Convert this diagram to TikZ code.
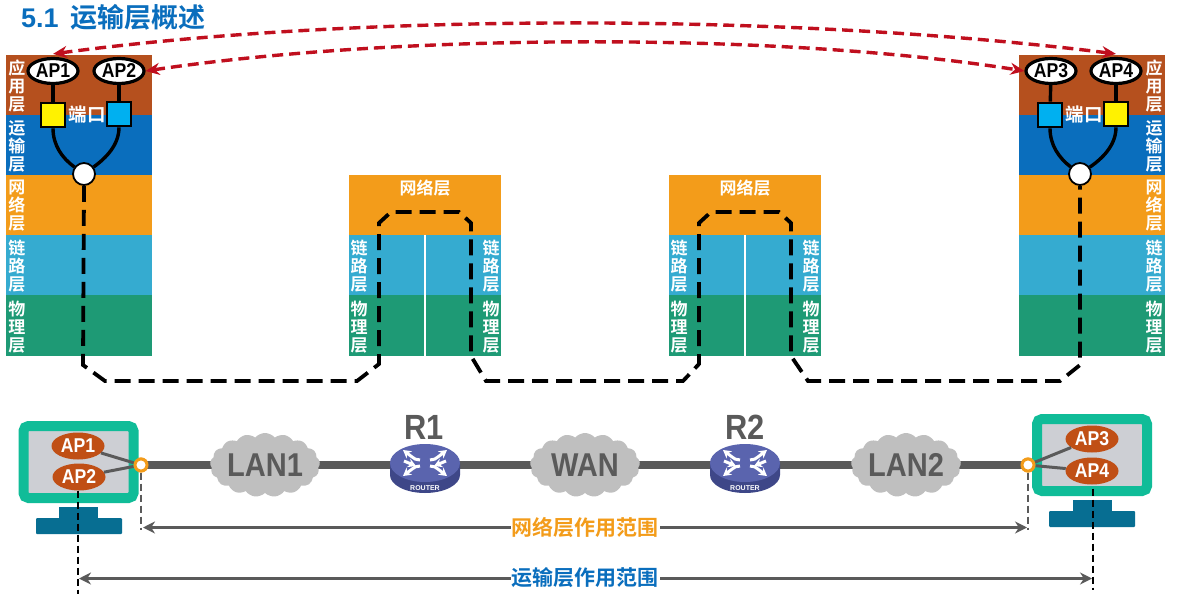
\documentclass[tikz,border=0pt]{standalone}
\usepackage{fontspec}
\setmainfont{Liberation Sans}
\newfontfamily\nrw{Liberation Sans}[FakeStretch=0.88]
\newfontfamily\cjk{Noto Sans CJK SC}[BoldFont={Noto Sans CJK SC Bold}]
\usetikzlibrary{shapes.symbols,shapes.geometric,arrows.meta,calc}
\definecolor{capp}{HTML}{B5501E}
\definecolor{ctra}{HTML}{0A6EBD}
\definecolor{cnet}{HTML}{F39C1A}
\definecolor{clin}{HTML}{35ABD0}
\definecolor{cphy}{HTML}{1E9A75}
\definecolor{cred}{HTML}{C00F1E}
\definecolor{cgry}{HTML}{5A5A5A}
\definecolor{ccld}{HTML}{BFBFBF}
\definecolor{cteal}{HTML}{10BC98}
\definecolor{cscr}{HTML}{CDCFD4}
\definecolor{cstd}{HTML}{076E92}
\definecolor{cbub}{HTML}{C04F15}
\definecolor{crt}{HTML}{5A64AE}
\definecolor{crtd}{HTML}{3E4788}
\definecolor{cport}{HTML}{00B0F0}
\newcommand{\vfnt}{\cjk\bfseries\fontsize{17}{18}\selectfont\lineskiplimit=-20pt\relax}
\tikzset{
 x=1pt,y=-1pt,
 band/.style={draw=none,fill=#1,minimum width=146pt,minimum height=60.5pt,inner sep=0,outer sep=0},
 rband/.style={draw=none,fill=#1,minimum width=152pt,minimum height=60.5pt,inner sep=0,outer sep=0},
 vlab/.style={text=white,font=\vfnt,align=center,inner sep=0},
 hlab/.style={text=white,font=\cjk\bfseries\fontsize{17}{17}\selectfont,inner sep=0},
 apw/.style={ellipse,draw=black,line width=3.2pt,fill=white,minimum width=50pt,minimum height=25pt,inner sep=0,font=\nrw\bfseries\fontsize{20}{20}\selectfont},
 port/.style={draw=black,line width=2.6pt,fill=#1,minimum size=24pt,inner sep=0},
 hub/.style={circle,draw=black,line width=1.8pt,fill=white,minimum size=22pt,inner sep=0},
 wire/.style={draw=black,line width=3.4pt},
 route/.style={draw=black,line width=3.8pt,dash pattern=on 16pt off 8pt},
 redarc/.style={draw=cred,line width=3.4pt,dash pattern=on 11pt off 6pt,{Stealth[length=14pt,width=12pt]}-{Stealth[length=14pt,width=12pt]}},
 lan/.style={cloud,cloud puffs=17,cloud puff arc=100,aspect=1.7,minimum width=110pt,minimum height=64pt,fill=ccld,draw=none,text=cgry,inner sep=-20pt,font=\nrw\bfseries\fontsize{33}{33}\selectfont},
 bub/.style={ellipse,fill=cbub,text=white,minimum width=53pt,minimum height=27pt,inner sep=0,font=\nrw\bfseries\fontsize{20}{20}\selectfont},
 ring/.style={circle,draw=cnet,line width=3pt,fill=white,minimum size=12pt,inner sep=0},
 link/.style={draw=cgry,line width=3pt},
 trunk/.style={draw=cgry,line width=7.5pt},
 scrn/.style={draw=cteal,line width=10pt,fill=cscr,rounded corners=5pt,minimum width=110pt,minimum height=72pt,inner sep=0},
 stdp/.style={fill=cstd,draw=none,inner sep=0},
 guide/.style={draw=cgry,line width=1.5pt,dash pattern=on 7pt off 4pt},
 guidek/.style={draw=black,line width=1.5pt,dash pattern=on 7pt off 4pt},
 span/.style={draw=cgry,line width=3.2pt,{Stealth[length=12pt,width=12pt]}-{Stealth[length=12pt,width=12pt]}},
 spanlab/.style={fill=white,inner sep=1pt,font=\cjk\bfseries\fontsize{21}{21}\selectfont,text=#1},
 rname/.style={text=cgry,font=\nrw\bfseries\fontsize{35}{35}\selectfont,inner sep=0},
 rtag/.style={text=white,font=\bfseries\fontsize{7}{7}\selectfont,inner sep=0},
}
\newcommand{\hoststack}[2]{%
 \node[band=capp] (#1a) at (#2,85) {};
 \node[band=ctra] (#1t) at (#2,145) {};
 \node[band=cnet] (#1n) at (#2,205) {};
 \node[band=clin] (#1l) at (#2,265) {};
 \node[band=cphy] (#1p) at (#2,325.5) {};
}
\newcommand{\routerstack}[2]{%
 \node[rband=cnet] (#1n) at (#2,205) {};
 \node[rband=clin] (#1l) at (#2,265) {};
 \node[rband=cphy] (#1p) at (#2,325.5) {};
 \draw[white,line width=1.6pt] (#1l.north) -- (#1p.south);
 \node[hlab] (#1t) at (#2,188) {网络层};
 \node[vlab] (#1ll) at (#2-66,266) {链\\路\\层};
 \node[vlab] (#1lr) at (#2+66,266) {链\\路\\层};
 \node[vlab] (#1pl) at (#2-66,327) {物\\理\\层};
 \node[vlab] (#1pr) at (#2+66,327) {物\\理\\层};
}
\newcommand{\routericon}[2]{%
 \fill[crtd] (#2-35,463) -- (#2-35,475) arc[start angle=180,end angle=0,x radius=35,y radius=18] -- (#2+35,463) -- cycle;
 \node[ellipse,fill=crt,minimum width=70pt,minimum height=38pt,inner sep=0] (#1) at (#2,463) {};
 \begin{scope}[shift={(#2,463)},white,line width=3pt,-{Stealth[length=8pt,width=9pt]}]
  \draw (-5,-3) .. controls (-9,-3) .. (-22,-13);
  \draw (5,-3) .. controls (9,-3) .. (22,-13);
  \draw (-5,3) .. controls (-9,3) .. (-22,13);
  \draw (5,3) .. controls (9,3) .. (22,13);
  \draw (-21,-2) -- (-9,3);
  \draw (21,-2) -- (9,3);
 \end{scope}
 \node[rtag] at (#2,488) {ROUTER};
}
\begin{document}
\begin{tikzpicture}
\useasboundingbox (0,0) rectangle (1181,594);
\fill[white] (0,0) rectangle (1181,594);
\node[anchor=west,text=ctra,font=\bfseries\fontsize{27}{27}\selectfont,inner sep=0] (title) at (21,17) {5.1\hspace{4pt} {\cjk\bfseries\fontsize{27}{27}\selectfont 运输层概述}};

\hoststack{L}{79}
\hoststack{R}{1092}
\foreach \s/\x in {L/17,R/1154}{
 \node[vlab] at (\x,86) {应\\用\\层};
 \node[vlab] at (\x,146) {运\\输\\层};
 \node[vlab] at (\x,206) {网\\络\\层};
 \node[vlab] at (\x,266) {链\\路\\层};
 \node[vlab] at (\x,327) {物\\理\\层};
}
\routerstack{A}{425}
\routerstack{B}{745}

\node[hub] (hl) at (84,174) {};
\node[hub] (hr) at (1080,174) {};
\coordinate (r1) at (83,365);
\coordinate (r2) at (105,381);
\coordinate (r3) at (357,381);
\coordinate (r4) at (379,364);
\coordinate (r5) at (379,223);
\coordinate (r6) at (391,212);
\coordinate (r7) at (459,212);
\coordinate (r8) at (471,223);
\coordinate (r9) at (471,356);
\coordinate (r10) at (486,381);
\coordinate (r11) at (683,381);
\coordinate (r12) at (699,364);
\coordinate (r13) at (699,223);
\coordinate (r14) at (711,212);
\coordinate (r15) at (779,212);
\coordinate (r16) at (791,223);
\coordinate (r17) at (791,356);
\coordinate (r18) at (808,381);
\coordinate (r19) at (1060,381);
\coordinate (r20) at (1080,365);
\draw[route] (hl.south) -- (r1) -- (r2) -- (r3) -- (r4) -- (r5) -- (r6) -- (r7) -- (r8) -- (r9) -- (r10) -- (r11) -- (r12) -- (r13) -- (r14) -- (r15) -- (r16) -- (r17) -- (r18) -- (r19) -- (r20) -- (hr.south);

\node[apw] (ap1) at (53,71) {AP1};
\node[apw] (ap2) at (119,71) {AP2};
\node[port=yellow] (pa) at (53,115) {};
\node[port=cport] (pb) at (119,114) {};
\node[hlab,font=\cjk\bfseries\fontsize{18.5}{18.5}\selectfont] (pl) at (87,115) {端口};
\draw[wire] (ap1) -- (pa);
\draw[wire] (ap2) -- (pb);
\draw[wire] (pa.south) .. controls (53,145) and (62,158) .. (hl);
\draw[wire] (pb.south) .. controls (119,145) and (106,158) .. (hl);

\node[apw] (ap3) at (1051,71) {AP3};
\node[apw] (ap4) at (1116,71) {AP4};
\node[port=cport] (pc) at (1050,115) {};
\node[port=yellow] (pd) at (1116,114) {};
\node[hlab,font=\cjk\bfseries\fontsize{18.5}{18.5}\selectfont] (pr) at (1084,115) {端口};
\draw[wire] (ap3) -- (pc);
\draw[wire] (ap4) -- (pd);
\draw[wire] (pc.south) .. controls (1050,145) and (1059,158) .. (hr);
\draw[wire] (pd.south) .. controls (1116,145) and (1103,158) .. (hr);

\draw[redarc] ($(ap1.north)+(0,-3)$) .. controls (350,14) and (780,12) .. ($(ap4.north)+(0,-3)$);
\draw[redarc] (ap2.east) .. controls (400,33) and (780,32) .. (ap3.west);

\node[ring] (rgl) at (141,465) {};
\node[ring] (rgr) at (1028,465) {};
\draw[trunk] (rgl.center) -- (rgr.center);
\node[lan] (lan1) at (265,465) {LAN1};
\node[lan] (wan) at (585,465) {WAN};
\node[lan] (lan2) at (906,465) {LAN2};
\routericon{r1n}{425}
\routericon{r2n}{745}
\node[rname] at (424,427) {R1};
\node[rname] at (745,427) {R2};

\node[scrn] (m1) at (78.5,462) {};
\node[stdp,minimum width=39pt,minimum height=11pt] (m1u) at (78.5,512.5) {};
\node[stdp,minimum width=86pt,minimum height=16pt,rounded corners=1pt] (m1l) at (79,526) {};
\node[bub] (b1) at (78,446) {AP1};
\node[bub] (b2) at (79,477) {AP2};
\draw[link] (b1) -- (rgl);
\draw[link] (b2) -- (rgl);
\node[scrn] (m2) at (1092,455) {};
\node[stdp,minimum width=39pt,minimum height=11pt] (m2u) at (1092,505.5) {};
\node[stdp,minimum width=86pt,minimum height=16pt,rounded corners=1pt] (m2l) at (1092,519) {};
\node[bub] (b3) at (1092,439) {AP3};
\node[bub] (b4) at (1092,471) {AP4};
\draw[link] (b3) -- (rgr);
\draw[link] (b4) -- (rgr);
\node[ring] at (rgl) {};
\node[ring] at (rgr) {};

\coordinate (g1) at (141,530);
\coordinate (g2) at (1029,530);
\coordinate (g3) at (78,594);
\coordinate (g4) at (1093,590);
\coordinate (s1) at (143,527.5);
\coordinate (s2) at (1027,527.5);
\coordinate (s3) at (79,578.5);
\coordinate (s4) at (1092,578.5);
\draw[guide] (rgl.south) -- (rgl.south |- g1);
\draw[guide] (rgr.south) -- (rgr.south |- g2);
\draw[guidek] (b2.south -| g3) -- (g3);
\draw[guidek] ($(b4.south -| g4)+(0,4)$) -- (g4);
\draw[span] (s1) -- (s2);
\draw[span] (s3) -- (s4);
\node[spanlab=cnet] (t1) at (585,527.5) {网络层作用范围};
\node[spanlab=ctra] (t2) at (585,578) {运输层作用范围};
\end{tikzpicture}
\end{document}
